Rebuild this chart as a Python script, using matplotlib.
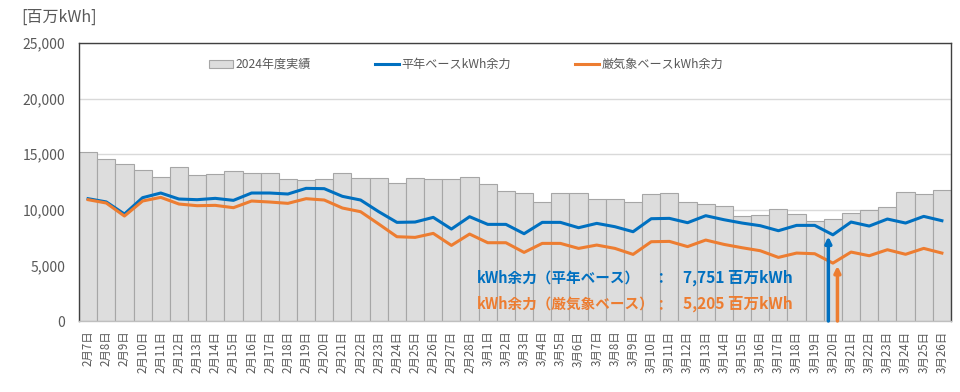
import matplotlib
matplotlib.use("Agg")
import matplotlib.pyplot as plt
from matplotlib.patches import Patch
from matplotlib.lines import Line2D
import numpy as np

plt.rcParams['font.family'] = ['Noto Sans CJK JP', 'DejaVu Sans']

# ---- data ----
dates = ([f"2月{d}日" for d in range(7, 29)] +
         [f"3月{d}日" for d in range(1, 27)])

actual_2024 = [15200, 14570, 14090, 13610, 12950, 13820, 13130, 13190, 13460, 13280,
               13280, 12800, 12710, 12800, 13340, 12820, 12860, 12380, 12890, 12740,
               12800, 12950, 12290, 11660, 11510, 10670, 11480, 11480, 10940, 10940,
               10700, 11380, 11480, 10730, 10490, 10310, 9470, 9530, 10040, 9590,
               8960, 9140, 9680, 9950, 10220, 11560, 11450, 11810]

normal_base = [11000, 10710, 9620, 11090, 11510, 10970, 10910, 11030, 10850, 11510,
               11510, 11420, 11930, 11900, 11210, 10880, 9830, 8870, 8900, 9320,
               8270, 9380, 8690, 8690, 7850, 8870, 8870, 8390, 8780, 8480,
               8030, 9200, 9230, 8840, 9470, 9110, 8810, 8570, 8120, 8600,
               8600, 7751, 8900, 8540, 9170, 8810, 9410, 9020]

severe_base = [10910, 10610, 9440, 10790, 11120, 10520, 10370, 10400, 10190, 10790,
               10700, 10580, 11000, 10880, 10160, 9830, 8720, 7580, 7520, 7880,
               6800, 7820, 7040, 7040, 6170, 6980, 6980, 6530, 6830, 6530,
               5990, 7130, 7160, 6690, 7280, 6890, 6590, 6320, 5720, 6110,
               6050, 5205, 6200, 5870, 6410, 6000, 6530, 6110]

min_idx = 41  # 3月20日

BLUE = '#0070C0'
ORANGE = '#ED7D31'
GREY_TXT = '#595959'

fig = plt.figure(figsize=(9.6, 3.92), dpi=100)
ax = fig.add_axes([0.0823, 0.1811, 0.9083, 0.7092])

x = np.arange(len(dates))
ax.bar(x, actual_2024, width=1.0, color='#DDDDDD', edgecolor='#A6A6A6',
       linewidth=0.8, zorder=2)
ax.plot(x, normal_base, color=BLUE, linewidth=2.2, zorder=3)
ax.plot(x, severe_base, color=ORANGE, linewidth=2.2, zorder=3)

# arrows pointing at the minimum day
ax.annotate('', xy=(min_idx - 0.25, normal_base[min_idx] - 150),
            xytext=(min_idx - 0.25, 0),
            arrowprops=dict(arrowstyle='-|>', color=BLUE, lw=2.5,
                            mutation_scale=9, shrinkA=0, shrinkB=0), zorder=4)
ax.annotate('', xy=(min_idx + 0.25, severe_base[min_idx] - 250),
            xytext=(min_idx + 0.25, 0),
            arrowprops=dict(arrowstyle='-|>', color=ORANGE, lw=2.5,
                            mutation_scale=9, shrinkA=0, shrinkB=0), zorder=4)

# annotation texts
rows = [("kWh余力（平年ベース）", normal_base[min_idx], BLUE, 3900),
        ("kWh余力（厳気象ベース）", severe_base[min_idx], ORANGE, 1550)]
for label, val, col, yv in rows:
    ax.text(21.4, yv, label, color=col, fontsize=10.5, fontweight='bold',
            va='center', zorder=5)
    ax.text(31.5, yv, "：", color=col, fontsize=10.5, fontweight='bold',
            va='center', ha='center', zorder=5)
    ax.text(32.75, yv, f"{val:,} 百万kWh", color=col, fontsize=11.2,
            fontweight='bold', va='center', zorder=5)

ax.set_xlim(-0.5, len(dates) - 0.5)
ax.set_ylim(0, 25000)
ax.set_yticks(range(0, 25001, 5000))
ax.set_yticklabels([f"{v:,}" for v in range(0, 25001, 5000)])
ax.set_xticks(x)
ax.set_xticklabels(dates, rotation=90)
ax.tick_params(axis='x', length=0, labelsize=8.3, colors=GREY_TXT, pad=7)
ax.tick_params(axis='y', length=0, labelsize=10, colors=GREY_TXT, pad=10)
ax.grid(axis='y', color='#D9D9D9', linewidth=1.0, zorder=0)
ax.set_axisbelow(True)
for s in ax.spines.values():
    s.set_color('#404040')
    s.set_linewidth(1.0)
ax.spines['bottom'].set_color('#BFBFBF')

fig.text(0.022, 0.955, "[百万kWh]", color=GREY_TXT, fontsize=11.5, va='center')

handles = [Patch(facecolor='#DDDDDD', edgecolor='#A6A6A6', linewidth=0.8),
           Line2D([0], [0], color=BLUE, linewidth=2.2),
           Line2D([0], [0], color=ORANGE, linewidth=2.2)]
labels = ["2024年度実績", "平年ベースkWh余力", "厳気象ベースkWh余力"]
leg = ax.legend(handles, labels, loc='upper center', bbox_to_anchor=(0.444, 0.985),
                ncol=3, frameon=False, fontsize=8.7, columnspacing=5.3,
                handlelength=2.0, handletextpad=0.2, handleheight=0.6)
for t in leg.get_texts():
    t.set_color(GREY_TXT)

fig.savefig("out.png", dpi=100)
